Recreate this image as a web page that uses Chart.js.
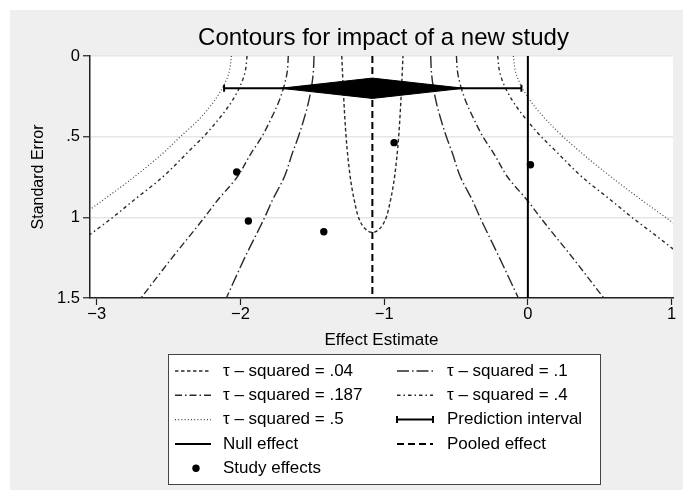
<!DOCTYPE html>
<html>
<head>
<meta charset="utf-8">
<title>Contours for impact of a new study</title>
<script src="https://cdn.jsdelivr.net/npm/chart.js@4.4.1/dist/chart.umd.min.js"></script>
<style>
  html, body { margin: 0; padding: 0; background: #fff; }
  #wrap { width: 683px; height: 500px; }
</style>
</head>
<body>
<div id="wrap"><canvas id="c" width="683" height="500"></canvas></div>
<script>
// ---- data -------------------------------------------------------------
// observed study effects and their standard errors
const studyEffect = [-0.931, 0.018, -2.026, -1.945, -1.420];
const studySE     = [0.537, 0.674, 0.719, 1.023, 1.089];

// meta-analysis summary
const pooledEffect = -1.082;
const pooledCI     = [-1.72, -0.445];
const predInterval = [-2.114, -0.045];
const summarySE    = 0.2;    // standard-error level where the summary row sits
const diamondHalf  = 0.063;

// tau-squared contours, [effect, standard error]
const tau04 = [[-1.295,0],[-1.282,0.25],[-1.265,0.5],[-1.238,0.738],[-1.224,0.82],[-1.206,0.903],
               [-1.184,0.986],[-1.153,1.048],[-1.112,1.085],[-1.082,1.093],[-1.052,1.085],[-1.011,1.048],
               [-0.980,0.986],[-0.958,0.903],[-0.940,0.82],[-0.926,0.738],[-0.899,0.5],[-0.882,0.25],[-0.869,0]];
const tau1Left    = [[-1.488,0],[-1.493,0.1],[-1.507,0.2],[-1.530,0.3],[-1.561,0.4],[-1.597,0.5],[-1.638,0.6],
                     [-1.695,0.75],[-1.781,0.9],[-1.831,1.0],[-1.970,1.25],[-2.098,1.5]];
const tau1Right   = [[-0.676,0],[-0.671,0.1],[-0.657,0.2],[-0.634,0.3],[-0.603,0.4],[-0.567,0.5],[-0.526,0.6],
                     [-0.469,0.75],[-0.383,0.9],[-0.333,1.0],[-0.198,1.25],[-0.066,1.5]];
const tau187Left  = [[-1.667,0],[-1.675,0.1],[-1.701,0.2],[-1.741,0.3],[-1.793,0.4],[-1.851,0.5],[-1.924,0.6],
                     [-2.023,0.75],[-2.165,0.9],[-2.250,1.0],[-2.475,1.25],[-2.692,1.5]];
const tau187Right = [[-0.497,0],[-0.489,0.1],[-0.463,0.2],[-0.423,0.3],[-0.371,0.4],[-0.313,0.5],[-0.240,0.6],
                     [-0.141,0.75],[0.001,0.9],[0.086,1.0],[0.311,1.25],[0.528,1.5]];
const tau4Left    = [[-1.954,0],[-1.968,0.1],[-2.009,0.2],[-2.074,0.3],[-2.159,0.4],[-2.257,0.5],[-2.370,0.6],
                     [-2.541,0.75],[-2.751,0.9],[-2.888,1.0],[-3.060,1.115]];
const tau4Right   = [[-0.210,0],[-0.196,0.1],[-0.155,0.2],[-0.090,0.3],[-0.005,0.4],[0.093,0.5],[0.206,0.6],
                     [0.377,0.75],[0.587,0.9],[0.724,1.0],[0.872,1.1],[1.087,1.25]];
const tau5Left    = [[-2.063,0],[-2.079,0.1],[-2.126,0.2],[-2.200,0.3],[-2.296,0.4],[-2.418,0.5],[-2.536,0.6],
                     [-2.740,0.75],[-2.967,0.9],[-3.060,0.96]];
const tau5Right   = [[-0.101,0],[-0.085,0.1],[-0.038,0.2],[0.036,0.3],[0.132,0.4],[0.245,0.5],[0.372,0.6],
                     [0.580,0.75],[0.803,0.9],[0.958,1.0],[1.037,1.05]];

// axes
const xTickValues = [-3, -2, -1, 0, 1];
const xTickLabels = ['\u22123', '\u22122', '\u22121', '0', '1'];
const yTickValues = [0, 0.5, 1, 1.5];
const yTickLabels = ['0', '.5', '1', '1.5'];

// legend, read row by row (two columns)
const legendLabels = ['\u03c4 \u2013 squared = .04', '\u03c4 \u2013 squared = .1',
                      '\u03c4 \u2013 squared = .187', '\u03c4 \u2013 squared = .4',
                      '\u03c4 \u2013 squared = .5', 'Prediction interval',
                      'Null effect', 'Pooled effect', 'Study effects'];
const legendKeys   = ['tau04', 'tau1', 'tau187', 'tau4', 'tau5', 'pi', 'nullFx', 'pooled', 'study'];

// ---- styling ----------------------------------------------------------
const FONT = "'Liberation Sans', Arial, Helvetica, sans-serif";
const styles = {
  tau04:  { color: '#2a2a2a', width: 1.4, dash: [3.5, 2.5] },
  tau1:   { color: '#2a2a2a', width: 1.4, dash: [12, 3, 1.5, 3] },
  tau187: { color: '#2a2a2a', width: 1.4, dash: [7, 3, 1.5, 3] },
  tau4:   { color: '#2a2a2a', width: 1.4, dash: [3.5, 3, 1.5, 3] },
  tau5:   { color: '#444', width: 1.2, dash: [1, 2.2] },
  pi:     { color: '#000', width: 2, dash: [] },
  nullFx: { color: '#000', width: 2, dash: [] },
  pooled: { color: '#000', width: 2, dash: [7, 4] },
  study:  { color: '#000' }
};

const toPts = arr => arr.map(([x, y]) => ({ x, y }));

// each contour branch is smoothed along the standard-error axis
function curveSet(arr, st, axis) {
  return {
    data: toPts(arr), showLine: true, pointRadius: 0,
    indexAxis: axis,
    borderColor: st.color, borderWidth: st.width, borderDash: st.dash,
    cubicInterpolationMode: 'monotone', fill: false
  };
}

const datasets = [
  { // study effects
    data: studyEffect.map((x, i) => ({ x, y: studySE[i] })),
    showLine: false, pointRadius: 3.7, pointBackgroundColor: '#000', pointBorderWidth: 0
  },
  { // summary diamond, upper edge
    data: [{ x: pooledCI[0], y: summarySE }, { x: pooledEffect, y: summarySE - diamondHalf }, { x: pooledCI[1], y: summarySE }],
    showLine: true, pointRadius: 0, borderColor: '#000', borderWidth: 1, fill: false
  },
  { // summary diamond, lower edge, filled up to the upper edge
    data: [{ x: pooledCI[0], y: summarySE }, { x: pooledEffect, y: summarySE + diamondHalf }, { x: pooledCI[1], y: summarySE }],
    showLine: true, pointRadius: 0, borderColor: '#000', borderWidth: 1, fill: '-1', backgroundColor: '#000'
  },
  { // prediction interval with end caps
    data: [{ x: predInterval[0], y: summarySE }, { x: predInterval[1], y: summarySE }],
    showLine: true, borderColor: '#000', borderWidth: 2,
    pointStyle: 'line', rotation: 90, pointRadius: 3.5, pointBorderWidth: 2, pointBorderColor: '#000'
  },
  { // pooled effect
    data: [{ x: pooledEffect, y: 0 }, { x: pooledEffect, y: 1.5 }],
    showLine: true, pointRadius: 0, borderColor: '#000', borderWidth: 2, borderDash: styles.pooled.dash
  },
  { // null effect
    data: [{ x: 0, y: 0 }, { x: 0, y: 1.5 }],
    showLine: true, pointRadius: 0, borderColor: '#000', borderWidth: 2
  },
  curveSet(tau04, styles.tau04, 'x'),
  curveSet(tau1Left, styles.tau1, 'y'),     curveSet(tau1Right, styles.tau1, 'y'),
  curveSet(tau187Left, styles.tau187, 'y'), curveSet(tau187Right, styles.tau187, 'y'),
  curveSet(tau4Left, styles.tau4, 'y'),     curveSet(tau4Right, styles.tau4, 'y'),
  curveSet(tau5Left, styles.tau5, 'y'),     curveSet(tau5Right, styles.tau5, 'y')
];

// ---- plugins ----------------------------------------------------------
const backdrop = {
  id: 'backdrop',
  afterLayout(chart) {
    // centre the main title over the plot region
    const a = chart.chartArea, t = chart.titleBlock;
    if (t) { t.left = a.left + 2; t.right = a.right + 2; t.width = t.right - t.left; }
  },
  beforeDraw(chart) {
    const { ctx, chartArea: a } = chart;
    ctx.save();
    ctx.fillStyle = '#ffffff';
    ctx.fillRect(0, 0, chart.width, chart.height);
    ctx.fillStyle = '#efefef';
    ctx.fillRect(10, 10, chart.width - 10, chart.height - 20);
    ctx.fillStyle = '#ffffff';
    ctx.fillRect(a.left, a.top, a.right - a.left, a.bottom - a.top);
    ctx.restore();
  }
};

const legendBox = {
  id: 'legendBox',
  afterDraw(chart) {
    const ctx = chart.ctx;
    const box = { left: 168, top: 354, width: 432, height: 130 };
    const rowY0 = 371, rowStep = 24.3;
    const symX = [175, 397], symLen = 36, textX = [223, 447];
    ctx.save();
    ctx.fillStyle = '#fff';
    ctx.fillRect(box.left, box.top, box.width, box.height);
    ctx.strokeStyle = '#444';
    ctx.lineWidth = 1;
    ctx.strokeRect(box.left + 0.5, box.top + 0.5, box.width, box.height);
    ctx.font = '17px ' + FONT;
    ctx.textBaseline = 'middle';
    ctx.textAlign = 'left';
    legendLabels.forEach((label, i) => {
      const col = i % 2, row = Math.floor(i / 2);
      const y = rowY0 + row * rowStep;
      const x0 = symX[col], x1 = symX[col] + symLen;
      const key = legendKeys[i];
      const st = styles[key];
      if (key === 'study') {
        ctx.fillStyle = st.color;
        ctx.beginPath();
        ctx.arc((x0 + x1) / 2 + 3, y, 3.7, 0, Math.PI * 2);
        ctx.fill();
      } else {
        ctx.strokeStyle = st.color;
        ctx.lineWidth = st.width;
        ctx.setLineDash(st.dash);
        ctx.beginPath();
        ctx.moveTo(x0, y);
        ctx.lineTo(x1, y);
        ctx.stroke();
        ctx.setLineDash([]);
        if (key === 'pi') {
          ctx.beginPath();
          ctx.moveTo(x0, y - 3.5); ctx.lineTo(x0, y + 3.5);
          ctx.moveTo(x1, y - 3.5); ctx.lineTo(x1, y + 3.5);
          ctx.stroke();
        }
      }
      ctx.fillStyle = '#000';
      ctx.fillText(label, textX[col], y);
    });
    ctx.restore();
  }
};

// ---- chart ------------------------------------------------------------
new Chart(document.getElementById('c'), {
  type: 'scatter',
  data: { datasets },
  plugins: [backdrop, legendBox],
  options: {
    responsive: false,
    animation: false,
    events: [],
    layout: { padding: { left: 0, right: 10, top: 0, bottom: 0 } },
    plugins: {
      legend: { display: false },
      tooltip: { enabled: false },
      title: {
        display: true,
        text: 'Contours for impact of a new study',
        color: '#000',
        font: { family: FONT, size: 24, weight: 'normal', lineHeight: 1.2 },
        padding: { top: 24, bottom: 3.2 }
      }
    },
    scales: {
      x: {
        type: 'linear',
        min: -3.047, max: 1.01,
        afterBuildTicks: s => { s.ticks = xTickValues.map(v => ({ value: v })); },
        afterFit: s => { s.height = 202; },
        ticks: {
          autoSkip: false, color: '#000', padding: 0, maxRotation: 0,
          font: { family: FONT, size: 16.5 },
          callback: (v, i) => xTickLabels[i]
        },
        grid: { drawOnChartArea: false, drawTicks: true, tickLength: 7, tickColor: '#222', tickWidth: 1.2 },
        border: { display: true, color: '#222', width: 1.5 },
        title: {
          display: true, text: 'Effect Estimate', color: '#000',
          font: { family: FONT, size: 17 }, padding: { top: 0, bottom: 149.5 }
        }
      },
      y: {
        type: 'linear',
        reverse: true,
        min: 0, max: 1.5,
        afterBuildTicks: s => { s.ticks = yTickValues.map(v => ({ value: v })); },
        afterFit: s => { s.width = 90; },
        ticks: {
          autoSkip: false, color: '#000', padding: 3,
          font: { family: FONT, size: 16.5 },
          callback: (v, i) => yTickLabels[i]
        },
        grid: { color: '#e6e6e6', lineWidth: 1.5, drawTicks: true, tickLength: 7, tickColor: '#222', tickWidth: 1.2 },
        border: { display: true, color: '#222', width: 1.5 },
        title: {
          display: true, text: 'Standard Error', color: '#000',
          font: { family: FONT, size: 16 }, padding: { top: 28.5, bottom: 0 }
        }
      }
    }
  }
});
</script>
</body>
</html>
